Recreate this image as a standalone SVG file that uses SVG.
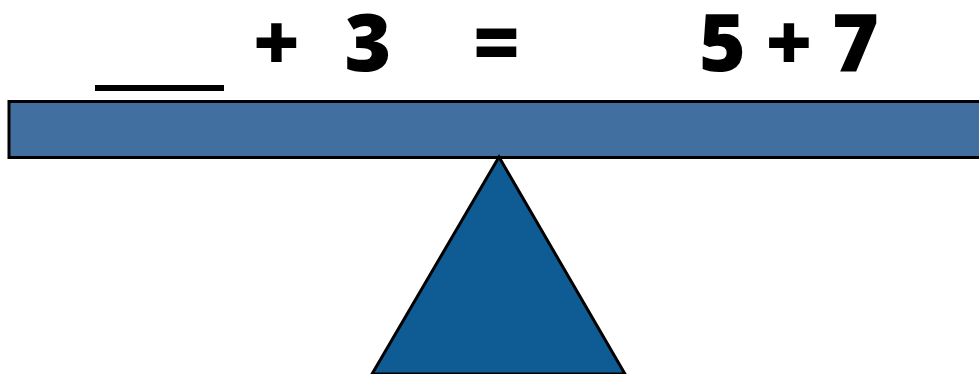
<svg xmlns="http://www.w3.org/2000/svg" width="979" height="374" viewBox="0 0 979 374">
<style>
.t{font-family:"Open Sans","Liberation Sans",sans-serif;font-weight:800;font-size:80px;fill:#000;text-anchor:middle}
</style>
<rect width="979" height="374" fill="#fff"/>
<g id="equation">
<rect x="95" y="85" width="129" height="6" fill="#000"/>
<text class="t" x="276.5" y="71">+</text>
<text class="t" x="368" y="71">3</text>
<text class="t" x="496.5" y="71">=</text>
<text class="t" x="722.5" y="71">5</text>
<text class="t" x="789" y="71">+</text>
<text class="t" x="855.5" y="71">7</text>
</g>
<g id="beam">
<rect x="9" y="101.5" width="975" height="56" fill="#4170A0" stroke="#000" stroke-width="3"/>
</g>
<g id="fulcrum">
<polygon points="499,157 372,374 625,374" fill="#0F5C94" stroke="#000" stroke-width="3" stroke-linejoin="miter"/>
</g>
</svg>
